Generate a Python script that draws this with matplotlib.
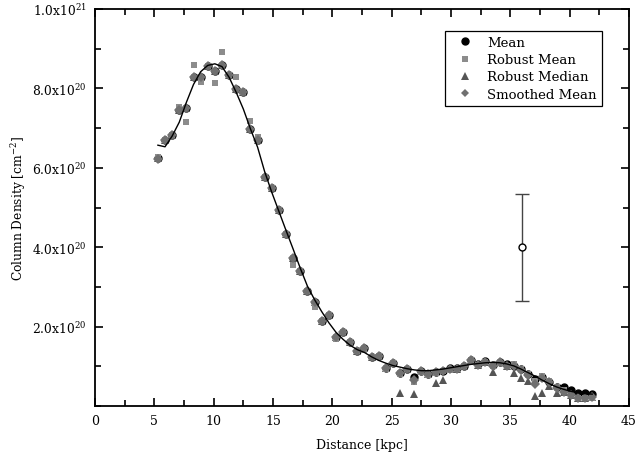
import matplotlib
matplotlib.use("Agg")
import matplotlib.pyplot as plt
from matplotlib.ticker import MultipleLocator, FixedLocator
from matplotlib.lines import Line2D

# distance grid [kpc]
distance = [5.3, 5.9, 6.5, 7.1, 7.7, 8.3, 8.9, 9.5, 10.1, 10.7, 11.3, 11.9, 12.5, 13.1,
            13.7, 14.3, 14.9, 15.5, 16.1, 16.7, 17.3, 17.9, 18.5, 19.1, 19.7, 20.3, 20.9,
            21.5, 22.1, 22.7, 23.3, 23.9, 24.5, 25.1, 25.7, 26.3, 26.9, 27.5, 28.1, 28.7,
            29.3, 29.9, 30.5, 31.1, 31.7, 32.3, 32.9, 33.5, 34.1, 34.7, 35.3, 35.9, 36.5,
            37.1, 37.7, 38.3, 38.9, 39.5, 40.1, 40.7, 41.3, 41.9]

# column densities in units of 1e20 cm^-2
smoothed_mean = [6.22, 6.70, 6.83, 7.46, 7.50, 8.30, 8.28, 8.57, 8.45, 8.60, 8.35, 7.98, 7.90, 6.98,
                 6.70, 5.76, 5.48, 4.95, 4.33, 3.72, 3.41, 2.90, 2.61, 2.15, 2.29, 1.73, 1.87,
                 1.62, 1.39, 1.45, 1.23, 1.27, 0.95, 1.08, 0.83, 0.93, 0.65, 0.87, 0.81, 0.85,
                 0.89, 0.93, 0.93, 1.00, 1.17, 1.03, 1.12, 1.02, 1.10, 1.00, 1.00, 0.90, 0.78,
                 0.55, 0.70, 0.60, 0.45, 0.35, 0.27, 0.20, 0.19, 0.22]

mean = [6.25, 6.70, 6.83, 7.46, 7.50, 8.30, 8.28, 8.57, 8.45, 8.60, 8.35, 7.98, 7.90, 6.98,
        6.70, 5.76, 5.48, 4.95, 4.33, 3.72, 3.41, 2.90, 2.61, 2.15, 2.29, 1.73, 1.87,
        1.62, 1.39, 1.45, 1.23, 1.27, 0.95, 1.08, 0.83, 0.93, 0.72, 0.87, 0.81, 0.85,
        0.89, 0.96, 0.97, 1.00, 1.17, 1.06, 1.14, 1.04, 1.10, 1.05, 1.01, 0.92, 0.80,
        0.68, 0.72, 0.60, 0.47, 0.47, 0.41, 0.34, 0.33, 0.30]

robust_mean = [6.28, 6.70, 6.83, 7.52, 7.16, 8.60, 8.17, 8.57, 8.14, 8.93, 8.35, 8.29, 7.90, 7.17,
               6.78, 5.76, 5.48, 4.95, 4.33, 3.55, 3.41, 2.90, 2.49, 2.15, 2.29, 1.70, 1.87,
               1.62, 1.39, 1.42, 1.23, 1.27, 0.92, 1.08, 0.80, 0.93, 0.60, 0.85, 0.79, 0.83,
               0.87, 0.91, 0.93, 1.00, 1.15, 1.03, 1.10, 1.02, 1.08, 1.02, 1.05, 0.92, 0.80,
               0.62, 0.76, 0.64, 0.48, 0.40, 0.28, 0.20, 0.20, 0.21]

robust_median = [6.25, 6.70, 6.83, 7.46, 7.50, 8.30, 8.28, 8.57, 8.45, 8.60, 8.35, 7.98, 7.90, 6.98,
                 6.70, 5.76, 5.48, 4.95, 4.33, 3.72, 3.41, 2.90, 2.61, 2.15, 2.29, 1.73, 1.87,
                 1.62, 1.39, 1.45, 1.23, 1.27, 0.95, 1.08, 0.34, 0.93, 0.30, 0.87, 0.81, 0.57,
                 0.66, 0.93, 0.93, 1.00, 1.17, 1.03, 1.12, 0.86, 1.10, 1.00, 0.83, 0.70, 0.62,
                 0.24, 0.34, 0.51, 0.34, 0.35, 0.27, 0.20, 0.19, 0.22]

model_fit = [6.57, 6.53, 6.80, 7.15, 7.65, 8.10, 8.42, 8.58, 8.62, 8.55, 8.28, 7.90, 7.48, 6.98,
             6.52, 5.90, 5.38, 4.90, 4.42, 3.95, 3.47, 3.02, 2.68, 2.38, 2.10, 1.86, 1.68,
             1.53, 1.42, 1.35, 1.24, 1.15, 1.08, 1.02, 0.98, 0.94, 0.91, 0.89, 0.89, 0.91,
             0.93, 0.96, 0.99, 1.02, 1.05, 1.07, 1.09, 1.10, 1.09, 1.06, 1.01, 0.93, 0.84,
             0.75, 0.65, 0.56, 0.48, 0.42, 0.37, 0.33, 0.31, 0.30]

# typical error bar
err_x = [36.0]
err_y = [4.0]
err_dy = [1.35]

x_ticks = [0, 5, 10, 15, 20, 25, 30, 35, 40, 45]
y_ticks = [2.0, 4.0, 6.0, 8.0, 10.0]
y_tick_labels = [r'2.0x10$^{20}$', r'4.0x10$^{20}$', r'6.0x10$^{20}$', r'8.0x10$^{20}$', r'1.0x10$^{21}$']

plt.rcParams['font.family'] = ['DejaVu Serif']
plt.rcParams['mathtext.fontset'] = 'dejavuserif'

S = 1e20
fig = plt.figure(figsize=(6.36, 4.64), dpi=100)
ax = fig.add_axes([0.1494, 0.1228, 0.8396, 0.8556])

sc = lambda v: [a * S for a in v]

ax.plot(distance, sc(mean), 'o', color='black', ms=5, mec='black', zorder=3, label='Mean')
ax.plot(distance, sc(robust_mean), 's', color='#8c8c8c', ms=4.6, mew=0, zorder=4, label='Robust Mean')
ax.plot(distance, sc(robust_median), '^', color='#555555', ms=5.5, mew=0, zorder=3.5, label='Robust Median')
ax.plot(distance, sc(smoothed_mean), 'D', color='#707070', ms=5, mew=0, zorder=5, label='Smoothed Mean')
ax.plot(distance, sc(model_fit), '-', color='black', lw=1.0, zorder=6)

ax.errorbar(err_x, sc(err_y), yerr=[e * S for e in err_dy], fmt='o', mfc='white', mec='black',
            ms=5, ecolor='#444444', elinewidth=1.0, capsize=5, capthick=1.0, zorder=7)

ax.set_xlim(0, 45)
ax.set_ylim(0, 1.0e21)
ax.xaxis.set_major_locator(FixedLocator(x_ticks))
ax.xaxis.set_minor_locator(MultipleLocator(2.5))
ax.yaxis.set_major_locator(FixedLocator([v * S for v in y_ticks]))
ax.set_yticklabels(y_tick_labels)
ax.yaxis.set_minor_locator(MultipleLocator(1e20))
ax.tick_params(which='both', direction='in', top=True, right=True, width=1.2)
ax.tick_params(axis='x', labelsize=9)
ax.tick_params(axis='y', labelsize=8.8)
ax.tick_params(which='major', length=6, pad=6)
ax.tick_params(which='minor', length=4)
for sp in ax.spines.values():
    sp.set_linewidth(1.3)

ax.set_xlabel('Distance [kpc]', fontsize=9, labelpad=8)
ax.set_ylabel(r'Column Density [cm$^{-2}$]', fontsize=8.8, labelpad=3)

handles = [
    Line2D([], [], marker='o', ls='', color='black', ms=5),
    Line2D([], [], marker='s', ls='', color='#8c8c8c', ms=4.6, mew=0),
    Line2D([], [], marker='^', ls='', color='#555555', ms=5.5, mew=0),
    Line2D([], [], marker='D', ls='', color='#707070', ms=4.5, mew=0),
]
leg = ax.legend(handles, ['Mean', 'Robust Mean', 'Robust Median', 'Smoothed Mean'],
                loc='upper right', bbox_to_anchor=(0.962, 0.962), fontsize=9.5, fancybox=False,
                edgecolor='black', framealpha=1, handlelength=2.2, handletextpad=0.6,
                labelspacing=0.32, borderpad=0.4)
leg.get_frame().set_linewidth(0.9)

fig.savefig('out.png', dpi=100)
